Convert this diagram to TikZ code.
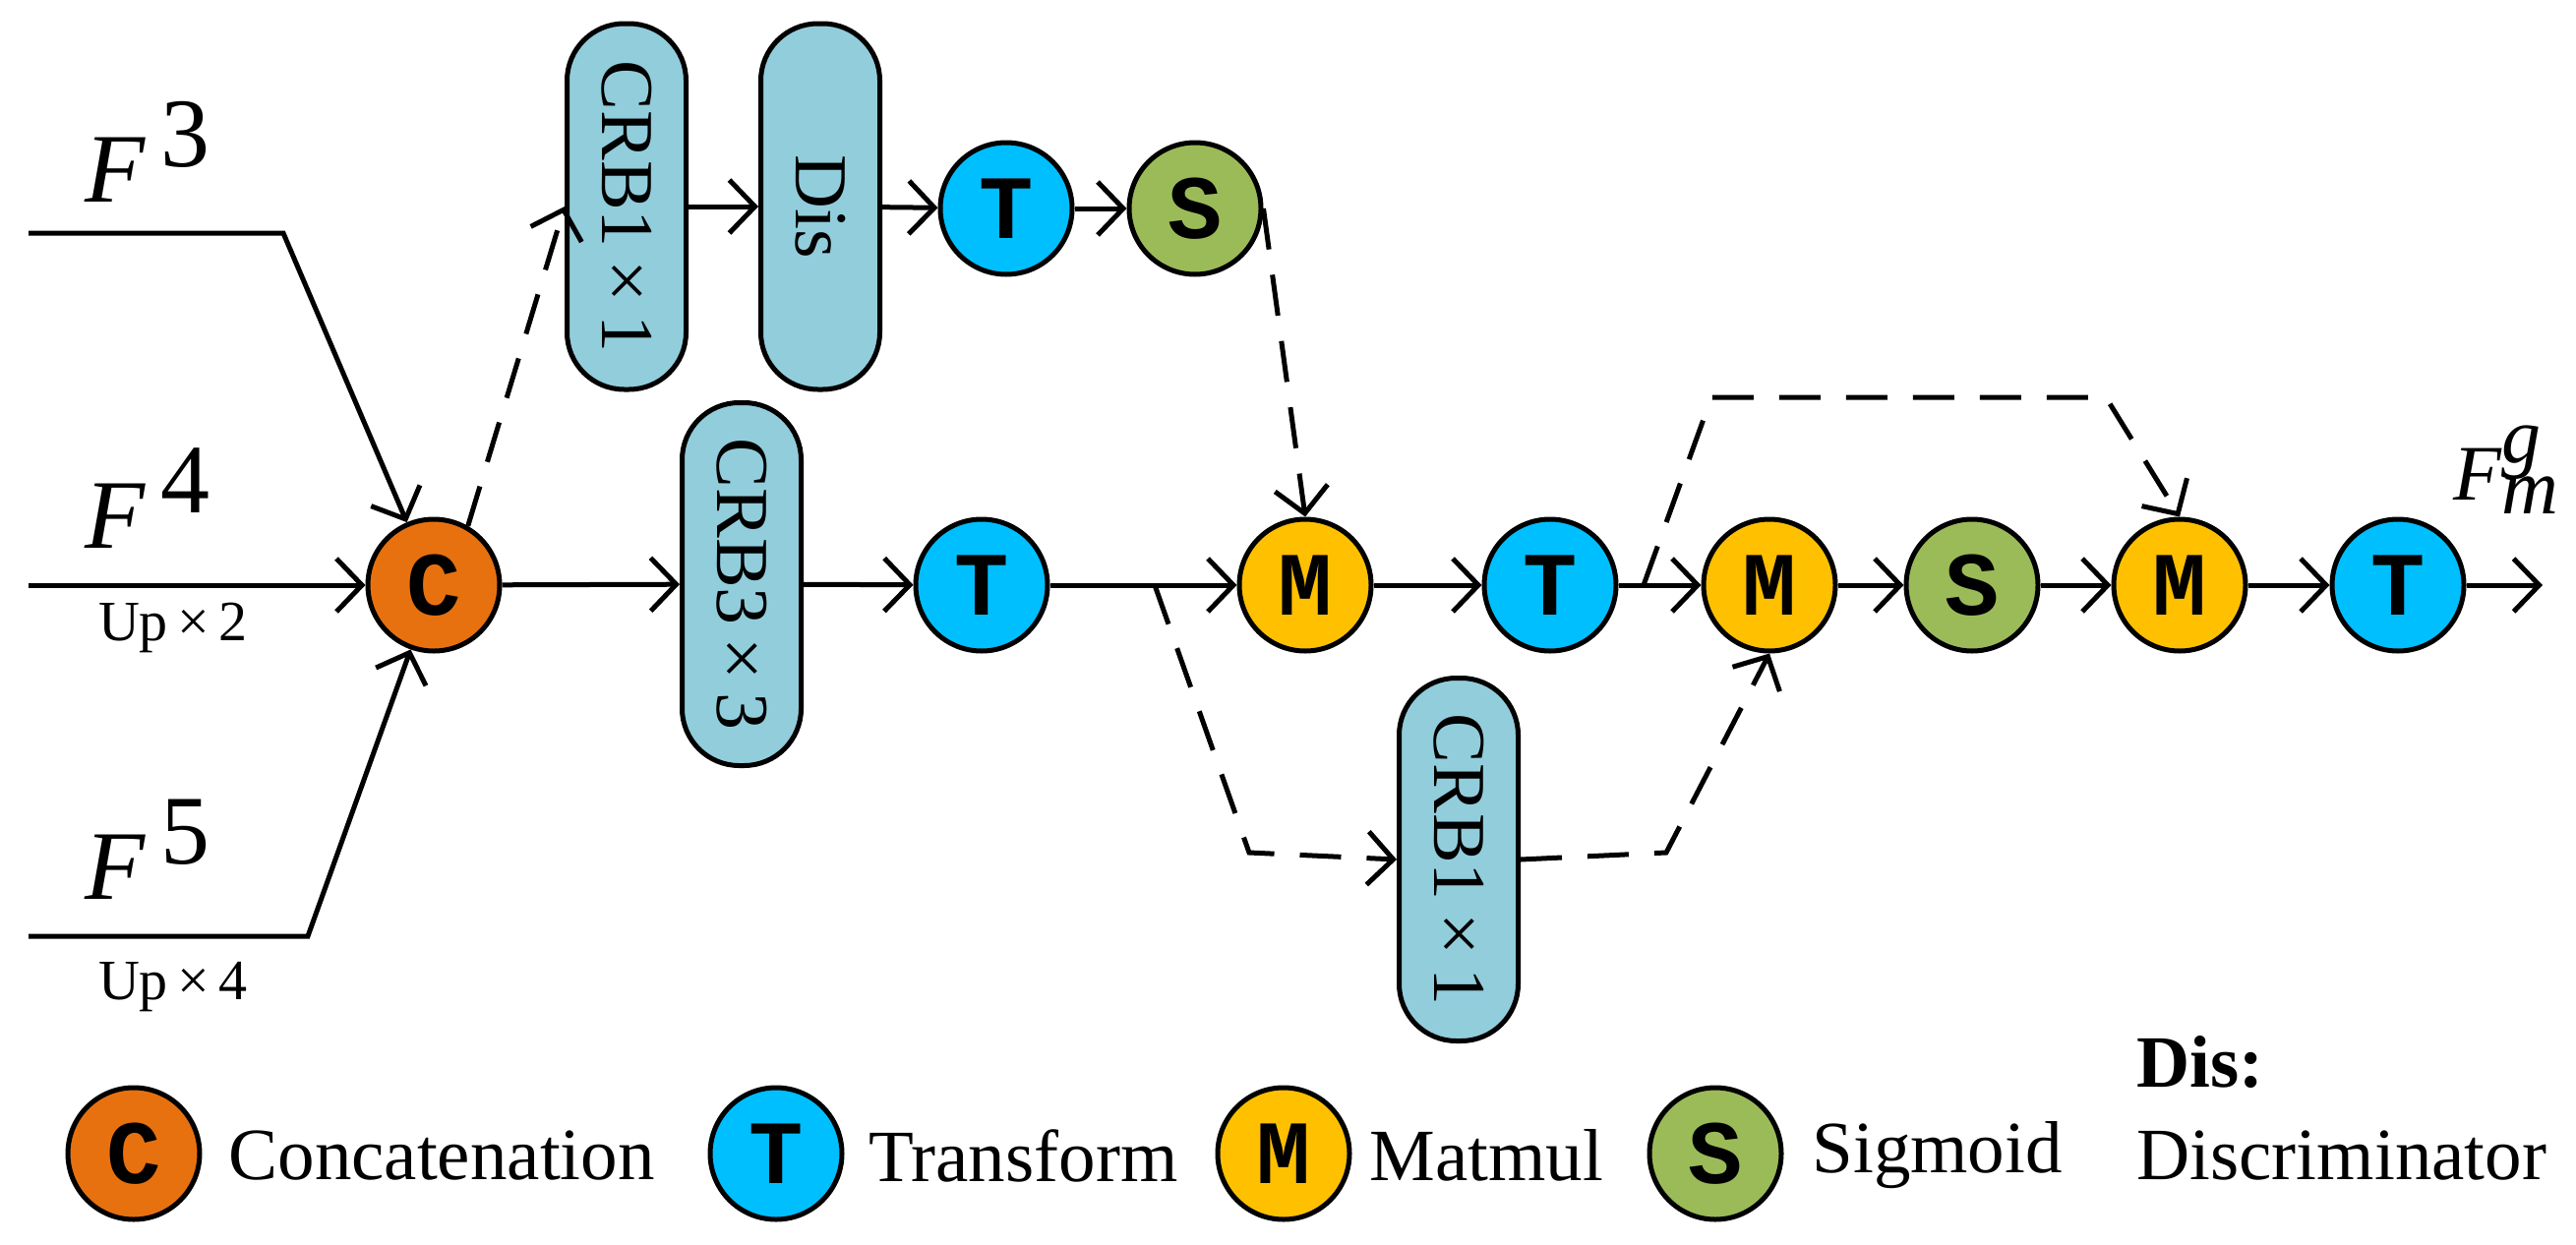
\documentclass[tikz,border=0pt]{standalone}
\usepackage{fontspec}
\setmainfont{Liberation Serif}
\newfontfamily\circfont{Liberation Mono}
\usetikzlibrary{arrows.meta}
\definecolor{cC}{HTML}{E8710F}
\definecolor{cT}{HTML}{00BFFF}
\definecolor{cM}{HTML}{FFC000}
\definecolor{cS}{HTML}{9BBB59}
\definecolor{cB}{HTML}{92CDDC}
\begin{document}
\begin{tikzpicture}[x=1pt,y=-1pt,line width=5pt,
  arr/.style={-{Straight Barb[length=26pt,width=54pt,line width=5pt]}},
  dsh/.style={dash pattern=on 42pt off 26pt},
  op/.style={circle,draw,minimum size=134pt,inner sep=0pt,font=\circfont\bfseries\fontsize{92}{92}\selectfont},
  box/.style={draw,fill=cB,rounded corners=58pt,minimum height=372pt,minimum width=121pt,inner sep=0pt,font=\fontsize{76}{76}\selectfont},
  lab/.style={font=\fontsize{75}{77}\selectfont,anchor=west,inner sep=0pt}]
\useasboundingbox (0,0) rectangle (2619,1266);
% inputs
\coordinate (a3) at (29,237); \coordinate (b3) at (288,237);
\coordinate (a4) at (29,595);
\coordinate (a5) at (29,952); \coordinate (b5) at (313,952);
\node[op,fill=cC] (C) at (441,595) {C};
\draw[arr] (a3) -- (b3) -- (C);
\draw[arr] (a4) -- (C);
\draw[arr] (a5) -- (b5) -- (C);
\node[font=\fontsize{100}{100}\selectfont] at (150,154) {\itshape F\,\raisebox{36pt}{\upshape 3}};
\node[font=\fontsize{100}{100}\selectfont] at (150,507) {\itshape F\,\raisebox{36pt}{\upshape 4}};
\node[font=\fontsize{100}{100}\selectfont] at (150,864) {\itshape F\,\raisebox{36pt}{\upshape 5}};
\node[font=\fontsize{58}{58}\selectfont] at (176,638) {Up\,×\,2};
\node[font=\fontsize{58}{58}\selectfont] at (176,1004) {Up\,×\,4};
% top branch
\node[box] (B1) at (637,210) {\rotatebox{-90}{CRB1\,×\,1}};
\node[box] (D) at (834,210) {\rotatebox{-90}{Dis}};
\node[op,fill=cT] (T1) at (1023,212) {T};
\node[op,fill=cS] (S1) at (1215,212) {S};
\draw[arr,dsh] (C.60) -- (B1.west);
\draw[arr] (B1) -- (D);
\draw[arr] (D) -- (T1);
\draw[arr] (T1) -- (S1);
% middle
\node[box,minimum height=369pt] (B3) at (754,594) {\rotatebox{-90}{CRB3\,×\,3}};
\node[op,fill=cT] (T2) at (998,595) {T};
\node[op,fill=cM] (M1) at (1327,595) {M};
\node[op,fill=cT] (T3) at (1576,595) {T};
\node[op,fill=cM] (M2) at (1799,595) {M};
\node[op,fill=cS] (S2) at (2005,595) {S};
\node[op,fill=cM] (M3) at (2216,595) {M};
\node[op,fill=cT] (T4) at (2438,595) {T};
\coordinate (out) at (2585,595);
\draw[arr] (C) -- (B3);
\draw[arr] (B3) -- (T2);
\draw[arr] (T2) -- (M1);
\draw[arr] (M1) -- (T3);
\draw[arr] (T3) -- (M2);
\draw[arr] (M2) -- (S2);
\draw[arr] (S2) -- (M3);
\draw[arr] (M3) -- (T4);
\draw[arr] (T4) -- (out);
\node[font=\fontsize{80}{80}\selectfont,inner sep=0pt] at (2548,478) {\itshape F\raisebox{38pt}{g}\kern-0.5em\raisebox{-14pt}{m}};
% dashed branches
\draw[arr,dsh] (S1.east) -- (M1.north);
\node[box,minimum height=369pt] (B2) at (1483,874) {\rotatebox{-90}{CRB1\,×\,1}};
\coordinate (d0) at (1174,595); \coordinate (d1) at (1270,867);
\draw[arr,dsh] (d0) -- (d1) -- (B2.west);
\coordinate (e1) at (1694,867);
\draw[arr,dsh] (B2.east) -- (e1) -- (M2.south);
\coordinate (f0) at (1671,595); \coordinate (f1) at (1740,404); \coordinate (f2) at (2141,404);
\draw[arr,dsh] (f0) -- (f1) -- (f2) -- (M3.north);
% legend
\node[op,fill=cC] (LC) at (136,1173) {C};
\node[lab] (tC) at (230,1175) {Concatenation};
\node[op,fill=cT] (LT) at (789,1173) {T};
\node[lab] (tT) at (881,1175) {Transform};
\node[op,fill=cM] (LM) at (1305,1173) {M};
\node[lab] (tM) at (1390,1175) {Matmul};
\node[op,fill=cS] (LS) at (1744,1173) {S};
\node[lab] (tS) at (1840,1175) {Sigmoid};
\node[lab,font=\bfseries\fontsize{75}{77}\selectfont] (dis) at (2170,1080) {Dis:};
\node[lab] (tD) at (2170,1175) {Discriminator};
\end{tikzpicture}
\end{document}
